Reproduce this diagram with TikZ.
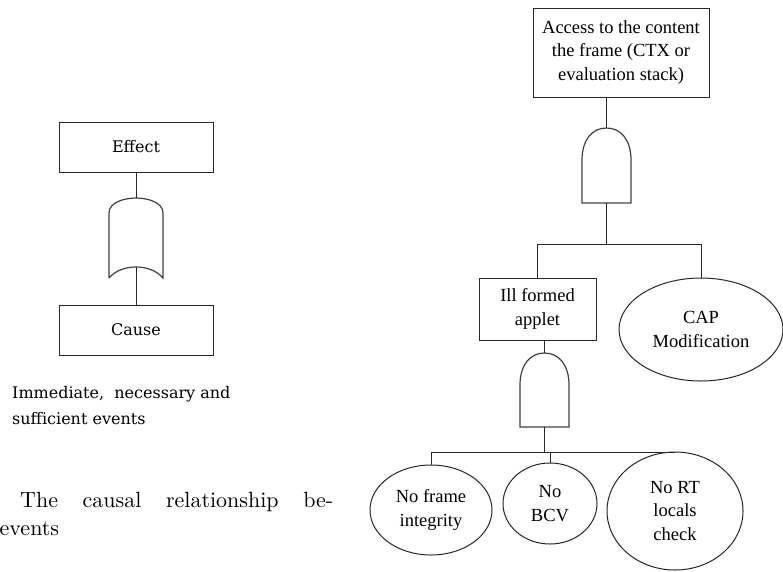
\documentclass[tikz,border=0pt]{standalone}
\usepackage{fontspec}
\newfontfamily\tnr{Liberation Serif}
\newfontfamily\dvs{DejaVu Serif}
\newfontfamily\lmten{lmroman10-regular}[Extension=.otf]
\usetikzlibrary{shapes.geometric}
\begin{document}
\begin{tikzpicture}[x=1pt,y=-1pt,
  conn/.style={line width=1pt, draw=black!85},
  box/.style={rectangle, draw=black!85, line width=1pt, inner sep=0pt, align=center},
  ev/.style={ellipse, draw=black!85, line width=1pt, inner sep=0pt, align=center},
  gate/.style={draw=black!75, line width=1.2pt},
  gatebox/.style={rectangle, inner sep=0pt, draw=none},
  rtext/.style={font=\tnr\fontsize{18.5}{23.5}\selectfont},
  ltext/.style={font=\dvs\fontsize{16}{26}\selectfont},
  captext/.style={font=\lmten\fontsize{22}{28}\selectfont, anchor=base west, inner sep=0pt}]
\useasboundingbox (0,0) rectangle (783,571);

% ---------- left legend ----------
\node[box, ltext, minimum width=154, minimum height=50] (effect) at (136,147) {Effect};
\node[box, ltext, minimum width=154, minimum height=50] (cause) at (136,330) {Cause};
\node[gatebox, minimum width=54, minimum height=80] (org) at (136,238) {};
\coordinate (orin) at (136,267);
\draw[gate] (109,278) -- (109,213) .. controls (109,202) and (125,198) .. (136,198)
  .. controls (147,198) and (163,202) .. (163,213) -- (163,278)
  .. controls (156,270) and (146,267) .. (136,267)
  .. controls (126,267) and (116,270) .. (109,278);
\draw[conn] (effect.south) -- (org.north);
\draw[conn] (orin) -- (cause.north);

\node[ltext, anchor=north west, align=left, inner sep=0pt] (legend) at (12,386)
  {Immediate, \ necessary and\\sufficient events};

\node[captext] (cap1) at (20,507)
  {\hbox to 313pt{The\hfill causal\hfill relationship\hfill be-}};
\node[captext] (cap2) at (-0.5,535) {events};

% ---------- right tree ----------
\node[box, rtext, minimum width=176, minimum height=89] (top) at (621,52.5)
  {Access to the content\\the frame (CTX or\\evaluation stack)};
\node[gatebox, minimum width=49, minimum height=75] (g1) at (606.5,165.5) {};
\draw[gate] (582,203) -- (582,160) .. controls (582,140) and (592,128) .. (606.5,128)
  .. controls (621,128) and (631,140) .. (631,160) -- (631,203) -- cycle;
\draw[conn] (top.south -| g1.north) -- (g1.north);
\coordinate (bar1) at (606.5,244);
\draw[conn] (g1.south) -- (bar1);

\node[box, rtext, minimum width=117, minimum height=62] (ill) at (537.5,309) {Ill formed\\applet};
\node[ev, rtext, minimum width=164, minimum height=103] (cap) at (701,329.5) {CAP\\Modification};
\draw[conn] (ill.north) -- (ill.north |- bar1) -- (cap.north |- bar1) -- (cap.north);

\node[gatebox, minimum width=49, minimum height=74] (g2) at (544.5,390) {};
\draw[gate] (520,427) -- (520,385) .. controls (520,365) and (530,353) .. (544.5,353)
  .. controls (559,353) and (569,365) .. (569,385) -- (569,427) -- cycle;
\draw[conn] (ill.south -| g2.north) -- (g2.north);
\coordinate (bar2) at (544.5,452);
\draw[conn] (g2.south) -- (bar2);

\node[ev, rtext, minimum width=122, minimum height=90] (nfi) at (431,510) {No frame\\integrity};
\node[ev, rtext, minimum width=94, minimum height=81] (nbcv) at (550,503.5) {No\\BCV};
\node[ev, rtext, minimum width=136, minimum height=118] (nrt) at (675,511) {No RT\\locals\\check};
\draw[conn] (nfi.north) -- (nfi.north |- bar2) -- (nrt.north |- bar2);
\draw[conn] (nbcv.north) -- (nbcv.north |- bar2);
\end{tikzpicture}
\end{document}
